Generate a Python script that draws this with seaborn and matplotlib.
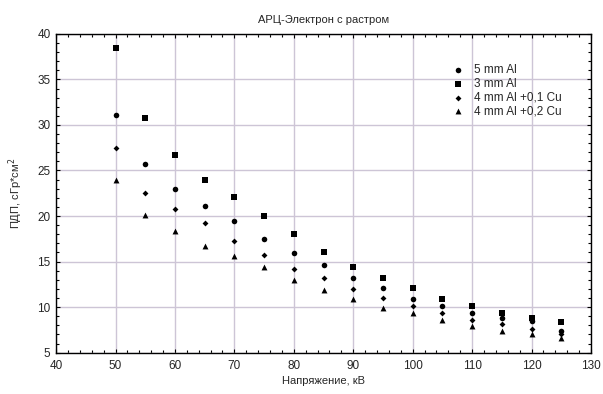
import numpy as np
import pandas as pd
import matplotlib
matplotlib.use("Agg")
import matplotlib.pyplot as plt
from matplotlib.ticker import MultipleLocator
import seaborn as sns

# напряжение, кВ
voltage = [50, 55, 60, 65, 70, 75, 80, 85, 90, 95, 100, 105, 110, 115, 120, 125]

# ПДП для разных фильтров
al5 = [31.1, 25.75, 23.0, 21.1, 19.4, 17.5, 15.9, 14.6, 13.2, 12.05, 10.9, 10.1, 9.35, 8.75, 8.45, 7.4]
al3 = [38.5, 30.8, 26.75, 24.0, 22.1, 20.0, 18.0, 16.1, 14.35, 13.2, 12.05, 10.9, 10.15, 9.35, 8.85, 8.4]
al4_cu01 = [27.5, 22.5, 20.75, 19.2, 17.3, 15.7, 14.2, 13.2, 12.0, 11.05, 10.1, 9.35, 8.6, 8.15, 7.6, 7.0]
al4_cu02 = [24.0, 20.1, 18.4, 16.7, 15.65, 14.4, 13.0, 11.85, 10.85, 9.9, 9.3, 8.55, 7.95, 7.4, 7.1, 6.65]

series_names = ["5 mm Al", "3 mm Al", "4 mm Al +0,1 Cu", "4 mm Al +0,2 Cu"]
series_values = [al5, al3, al4_cu01, al4_cu02]

df = pd.concat(
    [pd.DataFrame({"kV": voltage, "dose": vals, "filter": name})
     for name, vals in zip(series_names, series_values)],
    ignore_index=True,
)

sns.set_style("ticks")
plt.rcParams["font.family"] = ["Liberation Sans", "DejaVu Sans"]
plt.rcParams["font.size"] = 8.5

fig, ax = plt.subplots(figsize=(6.03, 3.94), dpi=100)
fig.subplots_adjust(left=0.093, right=0.980, top=0.914, bottom=0.105)

markers = {"5 mm Al": "o", "3 mm Al": "s", "4 mm Al +0,1 Cu": "D", "4 mm Al +0,2 Cu": "^"}
sizes = {"5 mm Al": 16, "3 mm Al": 16, "4 mm Al +0,1 Cu": 9, "4 mm Al +0,2 Cu": 18}

for name in series_names:
    sub = df[df["filter"] == name]
    sns.scatterplot(data=sub, x="kV", y="dose", marker=markers[name], s=sizes[name],
                    color="black", edgecolor="black", linewidth=0, label=name, ax=ax, zorder=3)

ax.set_xlim(40, 130)
ax.set_ylim(5, 40)
ax.xaxis.set_major_locator(MultipleLocator(10))
ax.xaxis.set_minor_locator(MultipleLocator(2))
ax.yaxis.set_major_locator(MultipleLocator(5))
ax.yaxis.set_minor_locator(MultipleLocator(1))
ax.tick_params(which="both", direction="in", top=True, right=True, color="black")
ax.tick_params(which="major", length=3, width=0.8, labelsize=8.5)
ax.tick_params(axis="x", which="major", pad=5)
ax.tick_params(axis="y", which="major", pad=4)
ax.tick_params(which="minor", length=2, width=0.8)
ax.grid(True, which="major", color="#cdc5d6", linewidth=1)
ax.set_axisbelow(True)
for sp in ax.spines.values():
    sp.set_color("black")
    sp.set_linewidth(1)

ax.set_title("АРЦ-Электрон с растром", fontsize=8, pad=8)
ax.set_xlabel("Напряжение, кВ", fontsize=8, labelpad=3)
ax.set_ylabel("ПДП, сГр*см$^2$", fontsize=8, labelpad=9)

ax.legend(loc="upper left", bbox_to_anchor=(0.72, 0.92), frameon=False,
          fontsize=8.5, handletextpad=0.4, labelspacing=0.15, borderaxespad=0,
          markerscale=1.0)

fig.savefig("out.png", dpi=100)
